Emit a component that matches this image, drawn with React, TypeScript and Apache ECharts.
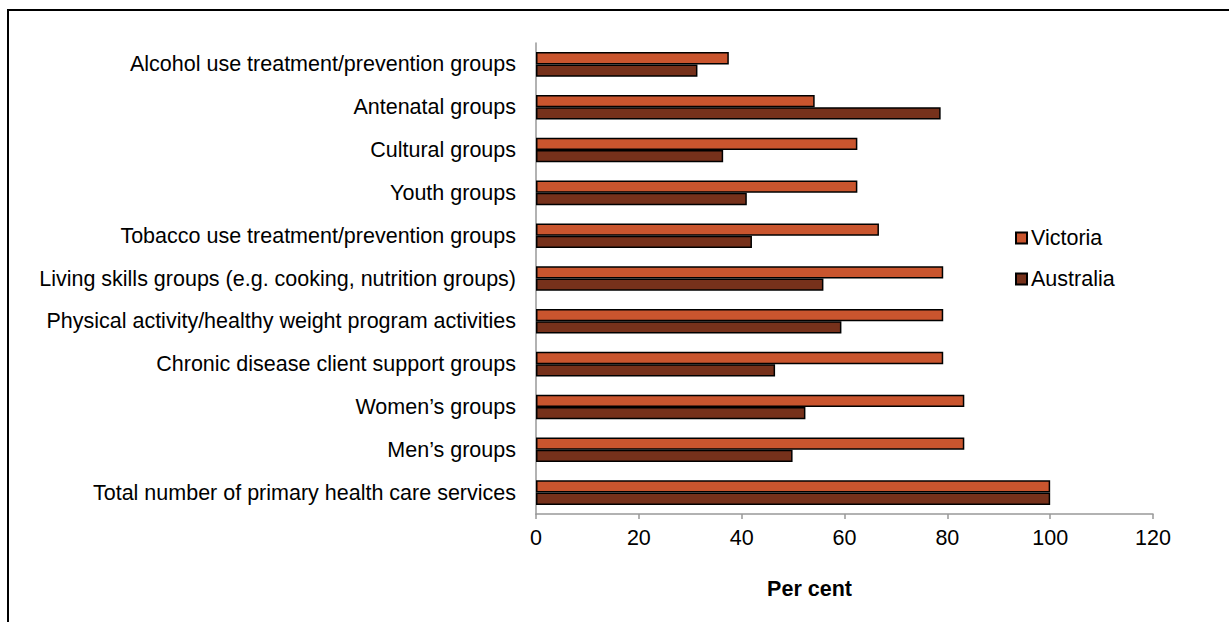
import React, { useEffect, useRef } from "react";
import * as echarts from "echarts";

const categories = [
  "Alcohol use treatment/prevention groups",
  "Antenatal groups",
  "Cultural groups",
  "Youth groups",
  "Tobacco use treatment/prevention groups",
  "Living skills groups (e.g. cooking, nutrition groups)",
  "Physical activity/healthy weight program activities",
  "Chronic disease client support groups",
  "Women\u2019s groups",
  "Men\u2019s groups",
  "Total number of primary health care services",
];

const victoria = [37.5, 54.2, 62.5, 62.5, 66.7, 79.2, 79.2, 79.2, 83.3, 83.3, 100];
const australia = [31.4, 78.7, 36.4, 41.0, 42.0, 55.9, 59.4, 46.5, 52.4, 49.9, 100];

const xTicks = [0, 20, 40, 60, 80, 100, 120];

export default function App() {
  const ref = useRef<HTMLDivElement>(null);
  useEffect(() => {
    if (!ref.current) return;
    const chart = echarts.init(ref.current, undefined, { renderer: "svg" });
    const font = "'Liberation Sans', Arial, sans-serif";
    const fs = 21.5;
    chart.setOption({
      animation: false,
      textStyle: { fontFamily: font },
      grid: { left: 536, top: 43, width: 617, height: 471, containLabel: false },
      legend: {
        orient: "vertical",
        left: 1010,
        top: 222,
        itemWidth: 11,
        itemHeight: 11,
        itemGap: 19,
        icon: "rect",
        textStyle: { fontSize: fs, color: "#000", fontFamily: font, padding: [0, 0, 0, -1] },
        data: ["Victoria", "Australia"],
      },
      xAxis: {
        type: "value",
        min: xTicks[0],
        max: xTicks[xTicks.length - 1],
        interval: 20,
        name: "Per cent",
        nameLocation: "middle",
        nameGap: 64,
        nameTextStyle: { fontSize: fs, fontWeight: "bold", color: "#000", fontFamily: font, padding: [0, 70, 0, 0] },
        axisLine: { show: true, lineStyle: { color: "#999", width: 1.5 } },
        axisTick: { show: true, length: 5, lineStyle: { color: "#999", width: 1.5 } },
        axisLabel: { fontSize: fs, color: "#000", margin: 13, fontFamily: font },
        splitLine: { show: false },
      },
      yAxis: {
        type: "category",
        inverse: true,
        data: categories,
        axisLine: { show: true, lineStyle: { color: "#999", width: 1.5 } },
        axisTick: { show: false },
        axisLabel: { fontSize: fs, color: "#000", margin: 20, fontFamily: font },
      },
      series: [
        {
          name: "Victoria",
          type: "bar",
          data: victoria,
          barWidth: 12.3,
          barGap: "0%",
          itemStyle: { color: "#C9552E", borderColor: "#000", borderWidth: 1.5 },
        },
        {
          name: "Australia",
          type: "bar",
          data: australia,
          barWidth: 12.3,
          barGap: "0%",
          itemStyle: { color: "#76311B", borderColor: "#000", borderWidth: 1.5 },
        },
      ],
    });
    return () => chart.dispose();
  }, []);

  return (
    <div style={{ position: "fixed", left: 0, top: 0, width: 1229, height: 622, background: "#fff", overflow: "hidden" }}>
      <div
        style={{
          position: "absolute",
          left: 7,
          top: 9,
          width: 1400,
          height: 800,
          borderLeft: "2px solid #000",
          borderTop: "2px solid #000",
        }}
      />
      <div ref={ref} style={{ position: "absolute", left: 0, top: 0, width: 1229, height: 622 }} />
    </div>
  );
}
